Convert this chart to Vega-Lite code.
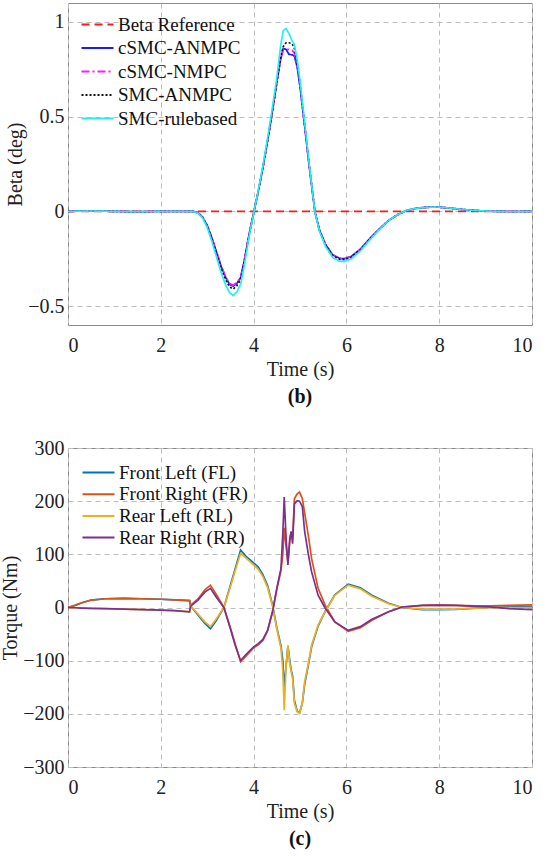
{
  "$schema": "https://vega.github.io/schema/vega-lite/v6.json",
  "padding": {"left": 0, "top": 2, "right": 6, "bottom": 4},
  "spacing": 29,
  "resolve": {
    "scale": {"color": "independent", "strokeDash": "independent", "x": "independent", "y": "independent"},
    "legend": {"color": "independent", "strokeDash": "independent"}
  },
  "config": {
    "font": "Liberation Serif",
    "view": {"stroke": "#8a8a8a", "strokeWidth": 1},
    "axis": {
      "labelFont": "Liberation Serif", "labelFontSize": 20, "labelColor": "#222222",
      "titleFont": "Liberation Serif", "titleFontSize": 20, "titleFontWeight": "normal", "titleColor": "#222222",
      "domain": false, "ticks": false, "grid": true, "gridColor": "#bdbdbd", "gridDash": [5, 4], "gridWidth": 1,
      "labelPadding": 4, "titlePadding": 2
    },
    "axisX": {"labelPadding": 10, "titlePadding": 4},
    "legend": {
      "title": null, "symbolType": "M-2,0H2", "symbolSize": 256, "symbolStrokeWidth": 2,
      "labelFont": "Liberation Serif", "labelFontSize": 19, "labelColor": "#111111", "labelOffset": 11, "padding": 0
    },
    "title": {"font": "Liberation Serif", "fontSize": 20, "fontWeight": "bold", "color": "#111111", "orient": "bottom", "anchor": "middle", "offset": 8}
  },
  "vconcat": [
    {
      "width": 464,
      "height": 322,
      "title": {"text": "(b)"},
      "data": {"values": [
        {"t": 0, "s": "Beta Reference", "v": 0}, {"t": 10, "s": "Beta Reference", "v": 0},
        {"t": 0, "s": "cSMC-ANMPC", "v": 0}, {"t": 0.5, "s": "cSMC-ANMPC", "v": 0.002}, {"t": 1, "s": "cSMC-ANMPC", "v": 0}, {"t": 1.5, "s": "cSMC-ANMPC", "v": -0.002}, {"t": 2, "s": "cSMC-ANMPC", "v": 0}, {"t": 2.5, "s": "cSMC-ANMPC", "v": 0}, {"t": 2.7, "s": "cSMC-ANMPC", "v": 0},
        {"t": 2.8, "s": "cSMC-ANMPC", "v": -0.008}, {"t": 2.9, "s": "cSMC-ANMPC", "v": -0.03}, {"t": 3.0, "s": "cSMC-ANMPC", "v": -0.075}, {"t": 3.1, "s": "cSMC-ANMPC", "v": -0.14}, {"t": 3.2, "s": "cSMC-ANMPC", "v": -0.215}, {"t": 3.3, "s": "cSMC-ANMPC", "v": -0.29}, {"t": 3.4, "s": "cSMC-ANMPC", "v": -0.35},
        {"t": 3.48, "s": "cSMC-ANMPC", "v": -0.385}, {"t": 3.56, "s": "cSMC-ANMPC", "v": -0.395}, {"t": 3.64, "s": "cSMC-ANMPC", "v": -0.38}, {"t": 3.72, "s": "cSMC-ANMPC", "v": -0.35}, {"t": 3.8, "s": "cSMC-ANMPC", "v": -0.26}, {"t": 3.9, "s": "cSMC-ANMPC", "v": -0.125}, {"t": 4.0, "s": "cSMC-ANMPC", "v": -0.01},
        {"t": 4.1, "s": "cSMC-ANMPC", "v": 0.105}, {"t": 4.2, "s": "cSMC-ANMPC", "v": 0.23}, {"t": 4.3, "s": "cSMC-ANMPC", "v": 0.37}, {"t": 4.4, "s": "cSMC-ANMPC", "v": 0.52}, {"t": 4.5, "s": "cSMC-ANMPC", "v": 0.68}, {"t": 4.58, "s": "cSMC-ANMPC", "v": 0.8}, {"t": 4.64, "s": "cSMC-ANMPC", "v": 0.86},
        {"t": 4.7, "s": "cSMC-ANMPC", "v": 0.855}, {"t": 4.76, "s": "cSMC-ANMPC", "v": 0.83}, {"t": 4.83, "s": "cSMC-ANMPC", "v": 0.826}, {"t": 4.88, "s": "cSMC-ANMPC", "v": 0.82}, {"t": 4.94, "s": "cSMC-ANMPC", "v": 0.76}, {"t": 5.0, "s": "cSMC-ANMPC", "v": 0.66}, {"t": 5.1, "s": "cSMC-ANMPC", "v": 0.45},
        {"t": 5.2, "s": "cSMC-ANMPC", "v": 0.235}, {"t": 5.32, "s": "cSMC-ANMPC", "v": 0}, {"t": 5.42, "s": "cSMC-ANMPC", "v": -0.1}, {"t": 5.55, "s": "cSMC-ANMPC", "v": -0.175}, {"t": 5.7, "s": "cSMC-ANMPC", "v": -0.228}, {"t": 5.85, "s": "cSMC-ANMPC", "v": -0.248}, {"t": 5.95, "s": "cSMC-ANMPC", "v": -0.25},
        {"t": 6.1, "s": "cSMC-ANMPC", "v": -0.238}, {"t": 6.3, "s": "cSMC-ANMPC", "v": -0.2}, {"t": 6.5, "s": "cSMC-ANMPC", "v": -0.145}, {"t": 6.7, "s": "cSMC-ANMPC", "v": -0.095}, {"t": 6.9, "s": "cSMC-ANMPC", "v": -0.05}, {"t": 7.1, "s": "cSMC-ANMPC", "v": -0.018}, {"t": 7.3, "s": "cSMC-ANMPC", "v": 0.005},
        {"t": 7.5, "s": "cSMC-ANMPC", "v": 0.016}, {"t": 7.7, "s": "cSMC-ANMPC", "v": 0.021}, {"t": 7.95, "s": "cSMC-ANMPC", "v": 0.023}, {"t": 8.2, "s": "cSMC-ANMPC", "v": 0.018}, {"t": 8.5, "s": "cSMC-ANMPC", "v": 0.01}, {"t": 8.8, "s": "cSMC-ANMPC", "v": 0.004}, {"t": 9.2, "s": "cSMC-ANMPC", "v": 0},
        {"t": 9.6, "s": "cSMC-ANMPC", "v": -0.001}, {"t": 10, "s": "cSMC-ANMPC", "v": 0},

        {"t": 0, "s": "cSMC-NMPC", "v": 0}, {"t": 0.5, "s": "cSMC-NMPC", "v": 0.002}, {"t": 1, "s": "cSMC-NMPC", "v": 0}, {"t": 1.5, "s": "cSMC-NMPC", "v": -0.002}, {"t": 2, "s": "cSMC-NMPC", "v": 0}, {"t": 2.5, "s": "cSMC-NMPC", "v": 0}, {"t": 2.7, "s": "cSMC-NMPC", "v": 0},
        {"t": 2.8, "s": "cSMC-NMPC", "v": -0.008}, {"t": 2.9, "s": "cSMC-NMPC", "v": -0.03}, {"t": 3.0, "s": "cSMC-NMPC", "v": -0.074}, {"t": 3.1, "s": "cSMC-NMPC", "v": -0.138}, {"t": 3.2, "s": "cSMC-NMPC", "v": -0.212}, {"t": 3.3, "s": "cSMC-NMPC", "v": -0.287}, {"t": 3.4, "s": "cSMC-NMPC", "v": -0.346},
        {"t": 3.48, "s": "cSMC-NMPC", "v": -0.38}, {"t": 3.56, "s": "cSMC-NMPC", "v": -0.39}, {"t": 3.64, "s": "cSMC-NMPC", "v": -0.375}, {"t": 3.72, "s": "cSMC-NMPC", "v": -0.347}, {"t": 3.8, "s": "cSMC-NMPC", "v": -0.258}, {"t": 3.9, "s": "cSMC-NMPC", "v": -0.124}, {"t": 4.0, "s": "cSMC-NMPC", "v": -0.01},
        {"t": 4.1, "s": "cSMC-NMPC", "v": 0.105}, {"t": 4.2, "s": "cSMC-NMPC", "v": 0.23}, {"t": 4.3, "s": "cSMC-NMPC", "v": 0.37}, {"t": 4.4, "s": "cSMC-NMPC", "v": 0.52}, {"t": 4.5, "s": "cSMC-NMPC", "v": 0.68}, {"t": 4.58, "s": "cSMC-NMPC", "v": 0.8}, {"t": 4.64, "s": "cSMC-NMPC", "v": 0.855},
        {"t": 4.7, "s": "cSMC-NMPC", "v": 0.856}, {"t": 4.76, "s": "cSMC-NMPC", "v": 0.855}, {"t": 4.83, "s": "cSMC-NMPC", "v": 0.85}, {"t": 4.88, "s": "cSMC-NMPC", "v": 0.835}, {"t": 4.94, "s": "cSMC-NMPC", "v": 0.765}, {"t": 5.0, "s": "cSMC-NMPC", "v": 0.66}, {"t": 5.1, "s": "cSMC-NMPC", "v": 0.45},
        {"t": 5.2, "s": "cSMC-NMPC", "v": 0.235}, {"t": 5.32, "s": "cSMC-NMPC", "v": 0}, {"t": 5.42, "s": "cSMC-NMPC", "v": -0.1}, {"t": 5.55, "s": "cSMC-NMPC", "v": -0.175}, {"t": 5.7, "s": "cSMC-NMPC", "v": -0.228}, {"t": 5.85, "s": "cSMC-NMPC", "v": -0.249}, {"t": 5.95, "s": "cSMC-NMPC", "v": -0.252},
        {"t": 6.1, "s": "cSMC-NMPC", "v": -0.24}, {"t": 6.3, "s": "cSMC-NMPC", "v": -0.2}, {"t": 6.5, "s": "cSMC-NMPC", "v": -0.145}, {"t": 6.7, "s": "cSMC-NMPC", "v": -0.095}, {"t": 6.9, "s": "cSMC-NMPC", "v": -0.05}, {"t": 7.1, "s": "cSMC-NMPC", "v": -0.018}, {"t": 7.3, "s": "cSMC-NMPC", "v": 0.005},
        {"t": 7.5, "s": "cSMC-NMPC", "v": 0.016}, {"t": 7.7, "s": "cSMC-NMPC", "v": 0.021}, {"t": 7.95, "s": "cSMC-NMPC", "v": 0.023}, {"t": 8.2, "s": "cSMC-NMPC", "v": 0.018}, {"t": 8.5, "s": "cSMC-NMPC", "v": 0.01}, {"t": 8.8, "s": "cSMC-NMPC", "v": 0.004}, {"t": 9.2, "s": "cSMC-NMPC", "v": 0},
        {"t": 9.6, "s": "cSMC-NMPC", "v": -0.001}, {"t": 10, "s": "cSMC-NMPC", "v": 0},

        {"t": 0, "s": "SMC-ANMPC", "v": 0}, {"t": 0.5, "s": "SMC-ANMPC", "v": 0.002}, {"t": 1, "s": "SMC-ANMPC", "v": 0}, {"t": 1.5, "s": "SMC-ANMPC", "v": -0.002}, {"t": 2, "s": "SMC-ANMPC", "v": 0}, {"t": 2.5, "s": "SMC-ANMPC", "v": 0}, {"t": 2.7, "s": "SMC-ANMPC", "v": 0},
        {"t": 2.8, "s": "SMC-ANMPC", "v": -0.008}, {"t": 2.9, "s": "SMC-ANMPC", "v": -0.031}, {"t": 3.0, "s": "SMC-ANMPC", "v": -0.077}, {"t": 3.1, "s": "SMC-ANMPC", "v": -0.144}, {"t": 3.2, "s": "SMC-ANMPC", "v": -0.222}, {"t": 3.3, "s": "SMC-ANMPC", "v": -0.3}, {"t": 3.4, "s": "SMC-ANMPC", "v": -0.362},
        {"t": 3.48, "s": "SMC-ANMPC", "v": -0.398}, {"t": 3.56, "s": "SMC-ANMPC", "v": -0.41}, {"t": 3.64, "s": "SMC-ANMPC", "v": -0.393}, {"t": 3.72, "s": "SMC-ANMPC", "v": -0.36}, {"t": 3.8, "s": "SMC-ANMPC", "v": -0.267}, {"t": 3.9, "s": "SMC-ANMPC", "v": -0.128}, {"t": 4.0, "s": "SMC-ANMPC", "v": -0.01},
        {"t": 4.1, "s": "SMC-ANMPC", "v": 0.105}, {"t": 4.2, "s": "SMC-ANMPC", "v": 0.23}, {"t": 4.3, "s": "SMC-ANMPC", "v": 0.37}, {"t": 4.4, "s": "SMC-ANMPC", "v": 0.52}, {"t": 4.5, "s": "SMC-ANMPC", "v": 0.68}, {"t": 4.58, "s": "SMC-ANMPC", "v": 0.81}, {"t": 4.64, "s": "SMC-ANMPC", "v": 0.87},
        {"t": 4.7, "s": "SMC-ANMPC", "v": 0.89}, {"t": 4.76, "s": "SMC-ANMPC", "v": 0.89}, {"t": 4.83, "s": "SMC-ANMPC", "v": 0.885}, {"t": 4.88, "s": "SMC-ANMPC", "v": 0.86}, {"t": 4.94, "s": "SMC-ANMPC", "v": 0.78}, {"t": 5.0, "s": "SMC-ANMPC", "v": 0.675}, {"t": 5.1, "s": "SMC-ANMPC", "v": 0.46},
        {"t": 5.2, "s": "SMC-ANMPC", "v": 0.24}, {"t": 5.32, "s": "SMC-ANMPC", "v": 0}, {"t": 5.42, "s": "SMC-ANMPC", "v": -0.1}, {"t": 5.55, "s": "SMC-ANMPC", "v": -0.177}, {"t": 5.7, "s": "SMC-ANMPC", "v": -0.232}, {"t": 5.85, "s": "SMC-ANMPC", "v": -0.253}, {"t": 5.95, "s": "SMC-ANMPC", "v": -0.255},
        {"t": 6.1, "s": "SMC-ANMPC", "v": -0.243}, {"t": 6.3, "s": "SMC-ANMPC", "v": -0.203}, {"t": 6.5, "s": "SMC-ANMPC", "v": -0.147}, {"t": 6.7, "s": "SMC-ANMPC", "v": -0.096}, {"t": 6.9, "s": "SMC-ANMPC", "v": -0.05}, {"t": 7.1, "s": "SMC-ANMPC", "v": -0.018}, {"t": 7.3, "s": "SMC-ANMPC", "v": 0.005},
        {"t": 7.5, "s": "SMC-ANMPC", "v": 0.016}, {"t": 7.7, "s": "SMC-ANMPC", "v": 0.021}, {"t": 7.95, "s": "SMC-ANMPC", "v": 0.023}, {"t": 8.2, "s": "SMC-ANMPC", "v": 0.018}, {"t": 8.5, "s": "SMC-ANMPC", "v": 0.01}, {"t": 8.8, "s": "SMC-ANMPC", "v": 0.004}, {"t": 9.2, "s": "SMC-ANMPC", "v": 0},
        {"t": 9.6, "s": "SMC-ANMPC", "v": -0.001}, {"t": 10, "s": "SMC-ANMPC", "v": 0},

        {"t": 0, "s": "SMC-rulebased", "v": 0}, {"t": 0.5, "s": "SMC-rulebased", "v": 0.002}, {"t": 1, "s": "SMC-rulebased", "v": 0}, {"t": 1.5, "s": "SMC-rulebased", "v": -0.002}, {"t": 2, "s": "SMC-rulebased", "v": 0}, {"t": 2.5, "s": "SMC-rulebased", "v": 0}, {"t": 2.7, "s": "SMC-rulebased", "v": 0},
        {"t": 2.8, "s": "SMC-rulebased", "v": -0.01}, {"t": 2.9, "s": "SMC-rulebased", "v": -0.034}, {"t": 3.0, "s": "SMC-rulebased", "v": -0.085}, {"t": 3.1, "s": "SMC-rulebased", "v": -0.157}, {"t": 3.2, "s": "SMC-rulebased", "v": -0.24}, {"t": 3.3, "s": "SMC-rulebased", "v": -0.323}, {"t": 3.4, "s": "SMC-rulebased", "v": -0.39},
        {"t": 3.48, "s": "SMC-rulebased", "v": -0.428}, {"t": 3.56, "s": "SMC-rulebased", "v": -0.445}, {"t": 3.64, "s": "SMC-rulebased", "v": -0.425}, {"t": 3.72, "s": "SMC-rulebased", "v": -0.385}, {"t": 3.8, "s": "SMC-rulebased", "v": -0.285}, {"t": 3.9, "s": "SMC-rulebased", "v": -0.136}, {"t": 4.0, "s": "SMC-rulebased", "v": -0.012},
        {"t": 4.1, "s": "SMC-rulebased", "v": 0.11}, {"t": 4.2, "s": "SMC-rulebased", "v": 0.24}, {"t": 4.3, "s": "SMC-rulebased", "v": 0.385}, {"t": 4.4, "s": "SMC-rulebased", "v": 0.54}, {"t": 4.5, "s": "SMC-rulebased", "v": 0.705}, {"t": 4.58, "s": "SMC-rulebased", "v": 0.87}, {"t": 4.64, "s": "SMC-rulebased", "v": 0.955},
        {"t": 4.7, "s": "SMC-rulebased", "v": 0.965}, {"t": 4.76, "s": "SMC-rulebased", "v": 0.94}, {"t": 4.83, "s": "SMC-rulebased", "v": 0.9}, {"t": 4.88, "s": "SMC-rulebased", "v": 0.88}, {"t": 4.94, "s": "SMC-rulebased", "v": 0.8}, {"t": 5.0, "s": "SMC-rulebased", "v": 0.69}, {"t": 5.1, "s": "SMC-rulebased", "v": 0.47},
        {"t": 5.2, "s": "SMC-rulebased", "v": 0.245}, {"t": 5.32, "s": "SMC-rulebased", "v": 0}, {"t": 5.42, "s": "SMC-rulebased", "v": -0.105}, {"t": 5.55, "s": "SMC-rulebased", "v": -0.185}, {"t": 5.7, "s": "SMC-rulebased", "v": -0.242}, {"t": 5.85, "s": "SMC-rulebased", "v": -0.263}, {"t": 5.95, "s": "SMC-rulebased", "v": -0.265},
        {"t": 6.1, "s": "SMC-rulebased", "v": -0.252}, {"t": 6.3, "s": "SMC-rulebased", "v": -0.21}, {"t": 6.5, "s": "SMC-rulebased", "v": -0.152}, {"t": 6.7, "s": "SMC-rulebased", "v": -0.098}, {"t": 6.9, "s": "SMC-rulebased", "v": -0.05}, {"t": 7.1, "s": "SMC-rulebased", "v": -0.018}, {"t": 7.3, "s": "SMC-rulebased", "v": 0.005},
        {"t": 7.5, "s": "SMC-rulebased", "v": 0.016}, {"t": 7.7, "s": "SMC-rulebased", "v": 0.021}, {"t": 7.95, "s": "SMC-rulebased", "v": 0.023}, {"t": 8.2, "s": "SMC-rulebased", "v": 0.018}, {"t": 8.5, "s": "SMC-rulebased", "v": 0.01}, {"t": 8.8, "s": "SMC-rulebased", "v": 0.004}, {"t": 9.2, "s": "SMC-rulebased", "v": 0},
        {"t": 9.6, "s": "SMC-rulebased", "v": -0.001}, {"t": 10, "s": "SMC-rulebased", "v": 0}
      ]},
      "mark": {"type": "line", "strokeWidth": 1.7},
      "encoding": {
        "x": {"field": "t", "type": "quantitative", "scale": {"domain": [0, 10], "nice": false}, "axis": {"values": [0, 2, 4, 6, 8, 10], "title": "Time (s)"}},
        "y": {"field": "v", "type": "quantitative", "scale": {"domain": [-0.6, 1.1], "nice": false, "zero": false}, "axis": {"values": [-0.5, 0, 0.5, 1], "format": "~g", "title": "Beta (deg)"}},
        "color": {
          "field": "s", "type": "nominal",
          "scale": {"domain": ["Beta Reference", "cSMC-ANMPC", "cSMC-NMPC", "SMC-ANMPC", "SMC-rulebased"], "range": ["#ff1a1a", "#1a1aff", "#ff1aff", "#111111", "#22f0f0"]},
          "legend": {"orient": "none", "legendX": 20, "legendY": 12, "rowPadding": 3.5}
        },
        "strokeDash": {
          "field": "s", "type": "nominal",
          "scale": {"domain": ["Beta Reference", "cSMC-ANMPC", "cSMC-NMPC", "SMC-ANMPC", "SMC-rulebased"], "range": [[8, 5], [1, 0], [8, 3, 2, 3], [2, 2], [1, 0]]},
          "legend": {"orient": "none", "legendX": 20, "legendY": 12, "rowPadding": 3.5}
        }
      }
    },
    {
      "width": 464,
      "height": 319,
      "title": {"text": "(c)"},
      "data": {"values": [
        {"t": 0, "s": "Front Left (FL)", "v": 0}, {"t": 0.15, "s": "Front Left (FL)", "v": 4}, {"t": 0.3, "s": "Front Left (FL)", "v": 9}, {"t": 0.5, "s": "Front Left (FL)", "v": 14}, {"t": 0.8, "s": "Front Left (FL)", "v": 16.5}, {"t": 1.2, "s": "Front Left (FL)", "v": 17}, {"t": 1.6, "s": "Front Left (FL)", "v": 16.5}, {"t": 2.0, "s": "Front Left (FL)", "v": 15.5}, {"t": 2.3, "s": "Front Left (FL)", "v": 14.5}, {"t": 2.62, "s": "Front Left (FL)", "v": 13},
        {"t": 2.64, "s": "Front Left (FL)", "v": 3}, {"t": 2.8, "s": "Front Left (FL)", "v": -14}, {"t": 2.95, "s": "Front Left (FL)", "v": -30}, {"t": 3.07, "s": "Front Left (FL)", "v": -40}, {"t": 3.2, "s": "Front Left (FL)", "v": -24}, {"t": 3.36, "s": "Front Left (FL)", "v": 0}, {"t": 3.5, "s": "Front Left (FL)", "v": 42}, {"t": 3.6, "s": "Front Left (FL)", "v": 72}, {"t": 3.72, "s": "Front Left (FL)", "v": 108}, {"t": 3.85, "s": "Front Left (FL)", "v": 95},
        {"t": 4.0, "s": "Front Left (FL)", "v": 84}, {"t": 4.1, "s": "Front Left (FL)", "v": 76}, {"t": 4.2, "s": "Front Left (FL)", "v": 62}, {"t": 4.3, "s": "Front Left (FL)", "v": 42}, {"t": 4.41, "s": "Front Left (FL)", "v": 4}, {"t": 4.5, "s": "Front Left (FL)", "v": -38}, {"t": 4.59, "s": "Front Left (FL)", "v": -72}, {"t": 4.63, "s": "Front Left (FL)", "v": -100}, {"t": 4.66, "s": "Front Left (FL)", "v": -150}, {"t": 4.7, "s": "Front Left (FL)", "v": -110},
        {"t": 4.74, "s": "Front Left (FL)", "v": -72}, {"t": 4.78, "s": "Front Left (FL)", "v": -100}, {"t": 4.81, "s": "Front Left (FL)", "v": -118}, {"t": 4.84, "s": "Front Left (FL)", "v": -128}, {"t": 4.88, "s": "Front Left (FL)", "v": -175}, {"t": 4.94, "s": "Front Left (FL)", "v": -195}, {"t": 4.99, "s": "Front Left (FL)", "v": -198}, {"t": 5.05, "s": "Front Left (FL)", "v": -180}, {"t": 5.1, "s": "Front Left (FL)", "v": -145}, {"t": 5.18, "s": "Front Left (FL)", "v": -108},
        {"t": 5.25, "s": "Front Left (FL)", "v": -74}, {"t": 5.39, "s": "Front Left (FL)", "v": -35}, {"t": 5.54, "s": "Front Left (FL)", "v": -8}, {"t": 5.75, "s": "Front Left (FL)", "v": 24}, {"t": 6.04, "s": "Front Left (FL)", "v": 44}, {"t": 6.3, "s": "Front Left (FL)", "v": 37}, {"t": 6.55, "s": "Front Left (FL)", "v": 23}, {"t": 6.91, "s": "Front Left (FL)", "v": 8}, {"t": 7.2, "s": "Front Left (FL)", "v": 0}, {"t": 7.64, "s": "Front Left (FL)", "v": -4},
        {"t": 8.0, "s": "Front Left (FL)", "v": -4}, {"t": 8.36, "s": "Front Left (FL)", "v": -3.5}, {"t": 8.8, "s": "Front Left (FL)", "v": -1}, {"t": 9.09, "s": "Front Left (FL)", "v": 0}, {"t": 9.5, "s": "Front Left (FL)", "v": 1}, {"t": 10, "s": "Front Left (FL)", "v": 1.5},

        {"t": 0, "s": "Front Right (FR)", "v": 0}, {"t": 0.15, "s": "Front Right (FR)", "v": 4}, {"t": 0.3, "s": "Front Right (FR)", "v": 9}, {"t": 0.5, "s": "Front Right (FR)", "v": 14}, {"t": 0.8, "s": "Front Right (FR)", "v": 16.5}, {"t": 1.2, "s": "Front Right (FR)", "v": 17}, {"t": 1.6, "s": "Front Right (FR)", "v": 16.5}, {"t": 2.0, "s": "Front Right (FR)", "v": 15.5}, {"t": 2.3, "s": "Front Right (FR)", "v": 14.5}, {"t": 2.62, "s": "Front Right (FR)", "v": 13},
        {"t": 2.64, "s": "Front Right (FR)", "v": 4}, {"t": 2.8, "s": "Front Right (FR)", "v": 16}, {"t": 2.95, "s": "Front Right (FR)", "v": 33}, {"t": 3.07, "s": "Front Right (FR)", "v": 42}, {"t": 3.2, "s": "Front Right (FR)", "v": 24}, {"t": 3.36, "s": "Front Right (FR)", "v": 0}, {"t": 3.5, "s": "Front Right (FR)", "v": -38}, {"t": 3.6, "s": "Front Right (FR)", "v": -68}, {"t": 3.72, "s": "Front Right (FR)", "v": -102}, {"t": 3.85, "s": "Front Right (FR)", "v": -90},
        {"t": 4.0, "s": "Front Right (FR)", "v": -76}, {"t": 4.1, "s": "Front Right (FR)", "v": -70}, {"t": 4.2, "s": "Front Right (FR)", "v": -62}, {"t": 4.3, "s": "Front Right (FR)", "v": -44}, {"t": 4.41, "s": "Front Right (FR)", "v": -6}, {"t": 4.5, "s": "Front Right (FR)", "v": 34}, {"t": 4.59, "s": "Front Right (FR)", "v": 70}, {"t": 4.63, "s": "Front Right (FR)", "v": 100}, {"t": 4.66, "s": "Front Right (FR)", "v": 150}, {"t": 4.7, "s": "Front Right (FR)", "v": 115},
        {"t": 4.74, "s": "Front Right (FR)", "v": 85}, {"t": 4.78, "s": "Front Right (FR)", "v": 125}, {"t": 4.81, "s": "Front Right (FR)", "v": 142}, {"t": 4.84, "s": "Front Right (FR)", "v": 128}, {"t": 4.88, "s": "Front Right (FR)", "v": 205}, {"t": 4.94, "s": "Front Right (FR)", "v": 214}, {"t": 4.99, "s": "Front Right (FR)", "v": 217}, {"t": 5.05, "s": "Front Right (FR)", "v": 205}, {"t": 5.1, "s": "Front Right (FR)", "v": 178}, {"t": 5.18, "s": "Front Right (FR)", "v": 135},
        {"t": 5.25, "s": "Front Right (FR)", "v": 92}, {"t": 5.39, "s": "Front Right (FR)", "v": 36}, {"t": 5.54, "s": "Front Right (FR)", "v": 5}, {"t": 5.75, "s": "Front Right (FR)", "v": -27}, {"t": 6.04, "s": "Front Right (FR)", "v": -45}, {"t": 6.3, "s": "Front Right (FR)", "v": -38}, {"t": 6.55, "s": "Front Right (FR)", "v": -24}, {"t": 6.91, "s": "Front Right (FR)", "v": -8}, {"t": 7.2, "s": "Front Right (FR)", "v": 1}, {"t": 7.64, "s": "Front Right (FR)", "v": 4},
        {"t": 8.0, "s": "Front Right (FR)", "v": 4.5}, {"t": 8.36, "s": "Front Right (FR)", "v": 4}, {"t": 8.8, "s": "Front Right (FR)", "v": 3}, {"t": 9.09, "s": "Front Right (FR)", "v": 3}, {"t": 9.5, "s": "Front Right (FR)", "v": 4}, {"t": 10, "s": "Front Right (FR)", "v": 5},

        {"t": 0, "s": "Rear Left (RL)", "v": 0}, {"t": 0.15, "s": "Rear Left (RL)", "v": -0.5}, {"t": 0.3, "s": "Rear Left (RL)", "v": -1}, {"t": 0.5, "s": "Rear Left (RL)", "v": -1.5}, {"t": 0.8, "s": "Rear Left (RL)", "v": -2}, {"t": 1.2, "s": "Rear Left (RL)", "v": -3}, {"t": 1.6, "s": "Rear Left (RL)", "v": -4}, {"t": 2.0, "s": "Rear Left (RL)", "v": -5}, {"t": 2.3, "s": "Rear Left (RL)", "v": -6}, {"t": 2.62, "s": "Rear Left (RL)", "v": -8},
        {"t": 2.64, "s": "Rear Left (RL)", "v": 3}, {"t": 2.8, "s": "Rear Left (RL)", "v": -12}, {"t": 2.95, "s": "Rear Left (RL)", "v": -27}, {"t": 3.07, "s": "Rear Left (RL)", "v": -36}, {"t": 3.2, "s": "Rear Left (RL)", "v": -21}, {"t": 3.36, "s": "Rear Left (RL)", "v": 0}, {"t": 3.5, "s": "Rear Left (RL)", "v": 39}, {"t": 3.6, "s": "Rear Left (RL)", "v": 68}, {"t": 3.72, "s": "Rear Left (RL)", "v": 102}, {"t": 3.85, "s": "Rear Left (RL)", "v": 92},
        {"t": 4.0, "s": "Rear Left (RL)", "v": 80}, {"t": 4.1, "s": "Rear Left (RL)", "v": 72}, {"t": 4.2, "s": "Rear Left (RL)", "v": 58}, {"t": 4.3, "s": "Rear Left (RL)", "v": 38}, {"t": 4.41, "s": "Rear Left (RL)", "v": 2}, {"t": 4.5, "s": "Rear Left (RL)", "v": -40}, {"t": 4.59, "s": "Rear Left (RL)", "v": -77}, {"t": 4.63, "s": "Rear Left (RL)", "v": -120}, {"t": 4.66, "s": "Rear Left (RL)", "v": -193}, {"t": 4.7, "s": "Rear Left (RL)", "v": -110},
        {"t": 4.74, "s": "Rear Left (RL)", "v": -71}, {"t": 4.78, "s": "Rear Left (RL)", "v": -105}, {"t": 4.81, "s": "Rear Left (RL)", "v": -121}, {"t": 4.84, "s": "Rear Left (RL)", "v": -133}, {"t": 4.88, "s": "Rear Left (RL)", "v": -180}, {"t": 4.94, "s": "Rear Left (RL)", "v": -196}, {"t": 4.99, "s": "Rear Left (RL)", "v": -199}, {"t": 5.05, "s": "Rear Left (RL)", "v": -180}, {"t": 5.1, "s": "Rear Left (RL)", "v": -140}, {"t": 5.18, "s": "Rear Left (RL)", "v": -105},
        {"t": 5.25, "s": "Rear Left (RL)", "v": -71}, {"t": 5.39, "s": "Rear Left (RL)", "v": -33}, {"t": 5.54, "s": "Rear Left (RL)", "v": -8}, {"t": 5.75, "s": "Rear Left (RL)", "v": 23}, {"t": 6.04, "s": "Rear Left (RL)", "v": 42}, {"t": 6.3, "s": "Rear Left (RL)", "v": 35}, {"t": 6.55, "s": "Rear Left (RL)", "v": 21}, {"t": 6.91, "s": "Rear Left (RL)", "v": 7}, {"t": 7.2, "s": "Rear Left (RL)", "v": 0}, {"t": 7.64, "s": "Rear Left (RL)", "v": -3},
        {"t": 8.0, "s": "Rear Left (RL)", "v": -3}, {"t": 8.36, "s": "Rear Left (RL)", "v": -3}, {"t": 8.8, "s": "Rear Left (RL)", "v": -1}, {"t": 9.09, "s": "Rear Left (RL)", "v": -0.5}, {"t": 9.5, "s": "Rear Left (RL)", "v": 0}, {"t": 10, "s": "Rear Left (RL)", "v": 0},

        {"t": 0, "s": "Rear Right (RR)", "v": 0}, {"t": 0.15, "s": "Rear Right (RR)", "v": -0.5}, {"t": 0.3, "s": "Rear Right (RR)", "v": -1}, {"t": 0.5, "s": "Rear Right (RR)", "v": -1.5}, {"t": 0.8, "s": "Rear Right (RR)", "v": -2}, {"t": 1.2, "s": "Rear Right (RR)", "v": -3}, {"t": 1.6, "s": "Rear Right (RR)", "v": -4}, {"t": 2.0, "s": "Rear Right (RR)", "v": -5}, {"t": 2.3, "s": "Rear Right (RR)", "v": -6}, {"t": 2.62, "s": "Rear Right (RR)", "v": -8},
        {"t": 2.64, "s": "Rear Right (RR)", "v": 2}, {"t": 2.8, "s": "Rear Right (RR)", "v": 14}, {"t": 2.95, "s": "Rear Right (RR)", "v": 29}, {"t": 3.07, "s": "Rear Right (RR)", "v": 36}, {"t": 3.2, "s": "Rear Right (RR)", "v": 19}, {"t": 3.36, "s": "Rear Right (RR)", "v": 0}, {"t": 3.5, "s": "Rear Right (RR)", "v": -40}, {"t": 3.6, "s": "Rear Right (RR)", "v": -70}, {"t": 3.72, "s": "Rear Right (RR)", "v": -100}, {"t": 3.85, "s": "Rear Right (RR)", "v": -87},
        {"t": 4.0, "s": "Rear Right (RR)", "v": -74}, {"t": 4.1, "s": "Rear Right (RR)", "v": -68}, {"t": 4.2, "s": "Rear Right (RR)", "v": -60}, {"t": 4.3, "s": "Rear Right (RR)", "v": -43}, {"t": 4.41, "s": "Rear Right (RR)", "v": -8}, {"t": 4.5, "s": "Rear Right (RR)", "v": 36}, {"t": 4.59, "s": "Rear Right (RR)", "v": 73}, {"t": 4.63, "s": "Rear Right (RR)", "v": 140}, {"t": 4.66, "s": "Rear Right (RR)", "v": 208}, {"t": 4.7, "s": "Rear Right (RR)", "v": 130},
        {"t": 4.74, "s": "Rear Right (RR)", "v": 80}, {"t": 4.78, "s": "Rear Right (RR)", "v": 130}, {"t": 4.81, "s": "Rear Right (RR)", "v": 143}, {"t": 4.84, "s": "Rear Right (RR)", "v": 120}, {"t": 4.88, "s": "Rear Right (RR)", "v": 195}, {"t": 4.94, "s": "Rear Right (RR)", "v": 201}, {"t": 4.99, "s": "Rear Right (RR)", "v": 200}, {"t": 5.05, "s": "Rear Right (RR)", "v": 190}, {"t": 5.1, "s": "Rear Right (RR)", "v": 143}, {"t": 5.18, "s": "Rear Right (RR)", "v": 100},
        {"t": 5.25, "s": "Rear Right (RR)", "v": 67}, {"t": 5.39, "s": "Rear Right (RR)", "v": 23}, {"t": 5.54, "s": "Rear Right (RR)", "v": -1}, {"t": 5.75, "s": "Rear Right (RR)", "v": -27}, {"t": 6.04, "s": "Rear Right (RR)", "v": -43}, {"t": 6.3, "s": "Rear Right (RR)", "v": -36}, {"t": 6.55, "s": "Rear Right (RR)", "v": -22}, {"t": 6.91, "s": "Rear Right (RR)", "v": -8}, {"t": 7.2, "s": "Rear Right (RR)", "v": 1}, {"t": 7.64, "s": "Rear Right (RR)", "v": 4},
        {"t": 8.0, "s": "Rear Right (RR)", "v": 4.5}, {"t": 8.36, "s": "Rear Right (RR)", "v": 4}, {"t": 8.8, "s": "Rear Right (RR)", "v": 2}, {"t": 9.09, "s": "Rear Right (RR)", "v": 1}, {"t": 9.5, "s": "Rear Right (RR)", "v": -2}, {"t": 10, "s": "Rear Right (RR)", "v": -4}
      ]},
      "mark": {"type": "line", "strokeWidth": 1.7},
      "encoding": {
        "x": {"field": "t", "type": "quantitative", "scale": {"domain": [0, 10], "nice": false}, "axis": {"values": [0, 2, 4, 6, 8, 10], "title": "Time (s)"}},
        "y": {"field": "v", "type": "quantitative", "scale": {"domain": [-300, 300], "nice": false}, "axis": {"values": [-300, -200, -100, 0, 100, 200, 300], "title": "Torque (Nm)"}},
        "color": {
          "field": "s", "type": "nominal",
          "scale": {"domain": ["Front Left (FL)", "Front Right (FR)", "Rear Left (RL)", "Rear Right (RR)"], "range": ["#0072BD", "#D95319", "#EDB120", "#7E2F8E"]},
          "legend": {"orient": "none", "legendX": 21, "legendY": 15, "rowPadding": 1.7}
        }
      }
    }
  ]
}
